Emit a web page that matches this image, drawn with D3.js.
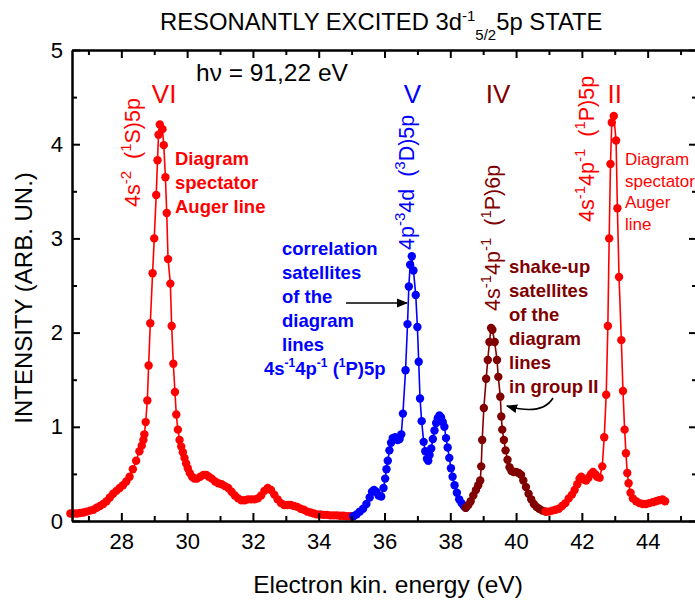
<!DOCTYPE html>
<html>
<head>
<meta charset="utf-8">
<script src="https://cdn.jsdelivr.net/npm/d3@7"></script>
<style>
  body { margin: 0; background: #fff; }
  svg { display: block; font-family: "Liberation Sans", Arial, sans-serif; }
</style>
</head>
<body>
<div id="graph"></div>
<script>
// DATA
// group VI region + low energy tail (red)
const energyVI = [26.45,26.55,26.65,26.75,26.85,26.95,27.05,27.15,27.25,27.35,27.45,27.55,27.65,27.75,27.85,27.95,28.05,28.15,28.25,28.35,28.45,28.55,28.62,28.67,28.70,28.74,28.79,28.83,28.88,28.95,29.00,29.06,29.10,29.13,29.17,29.25,29.29,29.34,29.38,29.42,29.49,29.53,29.58,29.63,29.67,29.72,29.77,29.82,29.87,29.92,29.97,30.02,30.08,30.15,30.22,30.30,30.40,30.50,30.58,30.66,30.75,30.85,30.95,31.05,31.15,31.25,31.35,31.45,31.55,31.65,31.75,31.85,31.95,32.05,32.15,32.25,32.35,32.45,32.55,32.65,32.75,32.85,32.95,33.05,33.15,33.25,33.35,33.45,33.55,33.65,33.75,33.85,33.95,34.05,34.15,34.25,34.35,34.45,34.55,34.65,34.75,34.85,34.95,35.05]
const intensityVI = [0.08,0.08,0.08,0.085,0.09,0.10,0.11,0.12,0.14,0.16,0.18,0.21,0.25,0.29,0.32,0.35,0.38,0.42,0.47,0.55,0.64,0.74,0.80,0.86,0.92,1.05,1.28,1.65,2.10,2.63,3.00,3.46,3.83,4.10,4.21,4.16,3.99,3.65,3.27,2.78,2.52,2.07,1.67,1.37,1.13,0.97,0.86,0.79,0.73,0.67,0.61,0.56,0.51,0.47,0.45,0.45,0.47,0.49,0.49,0.47,0.45,0.42,0.40,0.39,0.37,0.35,0.31,0.27,0.24,0.22,0.22,0.23,0.23,0.23,0.24,0.27,0.32,0.35,0.33,0.28,0.23,0.19,0.17,0.17,0.17,0.16,0.15,0.13,0.12,0.10,0.09,0.08,0.07,0.07,0.065,0.065,0.06,0.06,0.06,0.055,0.055,0.05,0.05,0.05]

// group V, correlation satellites (blue)
const energyV = [35.05,35.15,35.25,35.35,35.45,35.55,35.62,35.68,35.75,35.82,35.90,35.97,36.02,36.06,36.10,36.15,36.20,36.25,36.32,36.40,36.46,36.51,36.56,36.64,36.70,36.74,36.78,36.83,36.88,36.95,37.00,37.04,37.08,37.13,37.19,37.24,37.29,37.33,37.37,37.42,37.47,37.52,37.57,37.62,37.67,37.72,37.77,37.82,37.87,37.92,37.97,38.02,38.07,38.13,38.20,38.27,38.34,38.41,38.47]
const intensityV = [0.05,0.07,0.10,0.13,0.18,0.25,0.31,0.33,0.31,0.27,0.26,0.35,0.45,0.55,0.64,0.75,0.83,0.88,0.89,0.86,0.87,0.92,1.14,1.60,2.09,2.49,2.72,2.81,2.66,2.40,2.06,1.69,1.30,1.06,0.84,0.74,0.66,0.64,0.70,0.77,0.87,0.96,1.04,1.09,1.12,1.10,1.05,1.00,0.88,0.78,0.67,0.56,0.47,0.38,0.30,0.23,0.19,0.16,0.14]

// group IV, shake-up satellites (dark red)
const energyIV = [38.47,38.55,38.62,38.70,38.78,38.85,38.91,38.94,38.97,39.02,39.09,39.14,39.19,39.24,39.28,39.35,39.42,39.46,39.52,39.55,39.58,39.63,39.68,39.74,39.80,39.86,39.93,40.00,40.08,40.15,40.22,40.30,40.38,40.46,40.54,40.62,40.70,40.80,40.90]
const intensityIV = [0.14,0.17,0.21,0.27,0.33,0.38,0.43,0.58,0.86,1.20,1.51,1.71,1.90,2.05,2.03,1.90,1.71,1.53,1.32,1.11,0.97,0.86,0.75,0.65,0.57,0.53,0.52,0.52,0.51,0.49,0.43,0.36,0.29,0.23,0.18,0.15,0.13,0.11,0.10]

// group II (red)
const energyII = [40.90,41.00,41.10,41.20,41.30,41.40,41.50,41.60,41.70,41.78,41.86,41.93,41.98,42.05,42.13,42.20,42.28,42.34,42.40,42.46,42.54,42.62,42.68,42.74,42.79,42.83,42.87,42.91,42.97,43.04,43.08,43.13,43.20,43.25,43.30,43.34,43.38,43.42,43.48,43.55,43.65,43.75,43.85,43.95,44.05,44.15,44.25,44.35,44.45,44.53]
const intensityII = [0.10,0.10,0.11,0.12,0.13,0.16,0.19,0.24,0.28,0.33,0.39,0.45,0.47,0.44,0.43,0.46,0.50,0.52,0.50,0.47,0.46,0.58,0.89,1.34,2.07,3.00,3.79,4.23,4.30,4.04,3.32,2.59,1.92,1.38,0.97,0.72,0.51,0.40,0.30,0.24,0.21,0.19,0.18,0.18,0.19,0.20,0.21,0.22,0.23,0.21]

const xMajorTicks = [28, 30, 32, 34, 36, 38, 40, 42, 44]
const xMinorTicks = [27, 29, 31, 33, 35, 37, 39, 41, 43, 45]
const yMajorTicks = [0, 1, 2, 3, 4, 5]
const yMinorTicks = [0.5, 1.5, 2.5, 3.5, 4.5]

// Colours
const red = "#ff0000"
const blue = "#0000ff"
const darkRed = "#800000"

const series = [
  { x: energyVI, y: intensityVI, color: red },
  { x: energyV, y: intensityV, color: blue },
  { x: energyIV, y: intensityIV, color: darkRed },
  { x: energyII, y: intensityII, color: red }
]

// SVG + scales
const width = 695, height = 600
const svg = d3.select('#graph').append("svg").attr("width", width).attr("height", height)

const xScale = d3.scaleLinear().domain([26.5, 45.5]).range([72, 697])
const yScale = d3.scaleLinear().domain([0, 5]).range([521, 50])

// Data: lines first, then the dots
series.forEach(s => {
  const pts = s.x.map((e, i) => [e, s.y[i]])
  const line = d3.line().x(d => xScale(d[0])).y(d => yScale(d[1]))
  svg.append("path").attr("d", line(pts))
    .attr("fill", "none").attr("stroke", s.color).attr("stroke-width", 1.6)
})
series.forEach(s => {
  const pts = s.x.map((e, i) => [e, s.y[i]])
  svg.append("g").selectAll("circle").data(pts).enter().append("circle")
    .attr("cx", d => xScale(d[0])).attr("cy", d => yScale(d[1]))
    .attr("r", 4.2).attr("fill", s.color)
})

// AXES (ticks point inward, frame on all four sides)
function styleAxis(g) {
  g.selectAll("path").attr("stroke", "#000").attr("stroke-width", 2)
  g.selectAll("line").attr("stroke", "#000").attr("stroke-width", 2)
  g.selectAll("text").attr("fill", "#000").style("font-family", "Liberation Sans, Arial, sans-serif")
}
const xBottom = svg.append("g").attr("transform", "translate(0,521)")
  .call(d3.axisBottom(xScale).tickValues(xMajorTicks).tickSize(-8).tickSizeOuter(0).tickPadding(12).tickFormat(d3.format("d")))
xBottom.selectAll("text").attr("font-size", 22)
styleAxis(xBottom)
const xBottomMinor = svg.append("g").attr("transform", "translate(0,521)")
  .call(d3.axisBottom(xScale).tickValues(xMinorTicks).tickSize(-5).tickSizeOuter(0).tickFormat(""))
styleAxis(xBottomMinor)

const xTop = svg.append("g").attr("transform", "translate(0,50)")
  .call(d3.axisTop(xScale).tickValues(xMajorTicks).tickSize(-8).tickSizeOuter(0).tickFormat(""))
styleAxis(xTop)
const xTopMinor = svg.append("g").attr("transform", "translate(0,50)")
  .call(d3.axisTop(xScale).tickValues(xMinorTicks).tickSize(-5).tickSizeOuter(0).tickFormat(""))
styleAxis(xTopMinor)

const yLeft = svg.append("g").attr("transform", "translate(72,0)")
  .call(d3.axisLeft(yScale).tickValues(yMajorTicks).tickSize(-8).tickSizeOuter(0).tickPadding(9).tickFormat(d3.format("d")))
yLeft.selectAll("text").attr("font-size", 22)
styleAxis(yLeft)
const yLeftMinor = svg.append("g").attr("transform", "translate(72,0)")
  .call(d3.axisLeft(yScale).tickValues(yMinorTicks).tickSize(-5).tickSizeOuter(0).tickFormat(""))
styleAxis(yLeftMinor)

const yRight = svg.append("g").attr("transform", "translate(697,0)")
  .call(d3.axisRight(yScale).tickValues(yMajorTicks).tickSize(-8).tickSizeOuter(0).tickFormat(""))
styleAxis(yRight)
const yRightMinor = svg.append("g").attr("transform", "translate(697,0)")
  .call(d3.axisRight(yScale).tickValues(yMinorTicks).tickSize(-5).tickSizeOuter(0).tickFormat(""))
styleAxis(yRightMinor)

// Axis labels
svg.append("text").attr("x", 388).attr("y", 593).attr("text-anchor", "middle")
  .attr("font-size", 24.5).text("Electron kin. energy (eV)")
svg.append("text").attr("transform", "translate(32,298) rotate(-90)").attr("text-anchor", "middle")
  .attr("font-size", 24).text("INTENSITY (ARB. UN.)")

// Title with super/subscript
const title = svg.append("text").attr("x", 160).attr("y", 30).attr("font-size", 23.8)
title.append("tspan").text("RESONANTLY EXCITED 3d")
title.append("tspan").attr("dy", -9).attr("font-size", 15).text("-1")
title.append("tspan").attr("dy", 19).attr("font-size", 15).text("5/2")
title.append("tspan").attr("dy", -10).text("5p STATE")

svg.append("text").attr("x", 196).attr("y", 81).attr("font-size", 24.5).text("h\u03bd = 91,22 eV")

// Group numerals
const groups = [
  { label: "VI", e: 29.3, color: red },
  { label: "V", e: 36.85, color: blue },
  { label: "IV", e: 39.45, color: darkRed },
  { label: "II", e: 43.0, color: red }
]
groups.forEach(g => {
  svg.append("text").attr("x", xScale(g.e)).attr("y", 103).attr("text-anchor", "middle")
    .attr("font-size", 26).attr("fill", g.color).text(g.label)
})

// Rotated configuration labels: parts = [text, kind]
function rotLabel(x, y, color, parts) {
  const t = svg.append("text").attr("transform", `translate(${x},${y}) rotate(-90)`)
    .attr("font-size", 21.5).attr("fill", color).style("white-space", "pre")
  let shift = 0
  parts.forEach(p => {
    const target = p[1] === "sup" ? -9 : 0
    const ts = t.append("tspan").attr("dy", target - shift).text(p[0])
    if (p[1] === "sup") ts.attr("font-size", 15)
    shift = target
  })
}
rotLabel(140, 207, red, [["4s", ""], ["-2", "sup"], ["  (", ""], ["1", "sup"], ["S)5p", ""]])
rotLabel(414, 250, blue, [["4p", ""], ["-3", "sup"], ["4d  (", ""], ["3", "sup"], ["D)5p", ""]])
rotLabel(500, 311, darkRed, [["4s", ""], ["-1", "sup"], ["4p", ""], ["-1", "sup"], ["  (", ""], ["1", "sup"], ["P)6p", ""]])
rotLabel(594, 222, red, [["4s", ""], ["-1", "sup"], ["4p", ""], ["-1", "sup"], ["  (", ""], ["1", "sup"], ["P)5p", ""]])

// Text blocks
function block(x, y, lines, step, size, color, weight) {
  lines.forEach((l, i) => {
    svg.append("text").attr("x", x).attr("y", y + i * step).attr("font-size", size)
      .attr("font-weight", weight).attr("fill", color).text(l)
  })
}
block(175, 165, ["Diagram", "spectator", "Auger line"], 24, 18.5, red, "bold")
block(282, 255, ["correlation", "satellites", "of the", "diagram", "lines"], 24, 18.5, blue, "bold")
const blueConf = svg.append("text").attr("x", 264).attr("y", 375).attr("font-size", 18.5)
  .attr("font-weight", "bold").attr("fill", blue).style("white-space", "pre")
blueConf.append("tspan").text("4s")
blueConf.append("tspan").attr("dy", -8).attr("font-size", 12).text("-1")
blueConf.append("tspan").attr("dy", 8).text("4p")
blueConf.append("tspan").attr("dy", -8).attr("font-size", 12).text("-1")
blueConf.append("tspan").attr("dy", 8).text(" (")
blueConf.append("tspan").attr("dy", -8).attr("font-size", 12).text("1")
blueConf.append("tspan").attr("dy", 8).text("P)5p")
block(509, 273, ["shake-up", "satellites", "of the", "diagram", "lines", "in group II"], 24, 18.5, darkRed, "bold")
block(625, 165, ["Diagram", "spectator", "Auger", "line"], 21.5, 17, red, "normal")

// Arrows
svg.append("defs").append("marker").attr("id", "arrow").attr("viewBox", "0 0 10 10")
  .attr("refX", 9).attr("refY", 5).attr("markerWidth", 7).attr("markerHeight", 7)
  .attr("orient", "auto").append("path").attr("d", "M0,1 L10,5 L0,9 Z").attr("fill", "#000")
svg.append("path").attr("d", "M346,303 L407,303").attr("stroke", "#000").attr("stroke-width", 1.6)
  .attr("fill", "none").attr("marker-end", "url(#arrow)")
svg.append("path").attr("d", "M553,398 Q542,416 507,406").attr("stroke", "#000").attr("stroke-width", 1.6)
  .attr("fill", "none").attr("marker-end", "url(#arrow)")
</script>
</body>
</html>
